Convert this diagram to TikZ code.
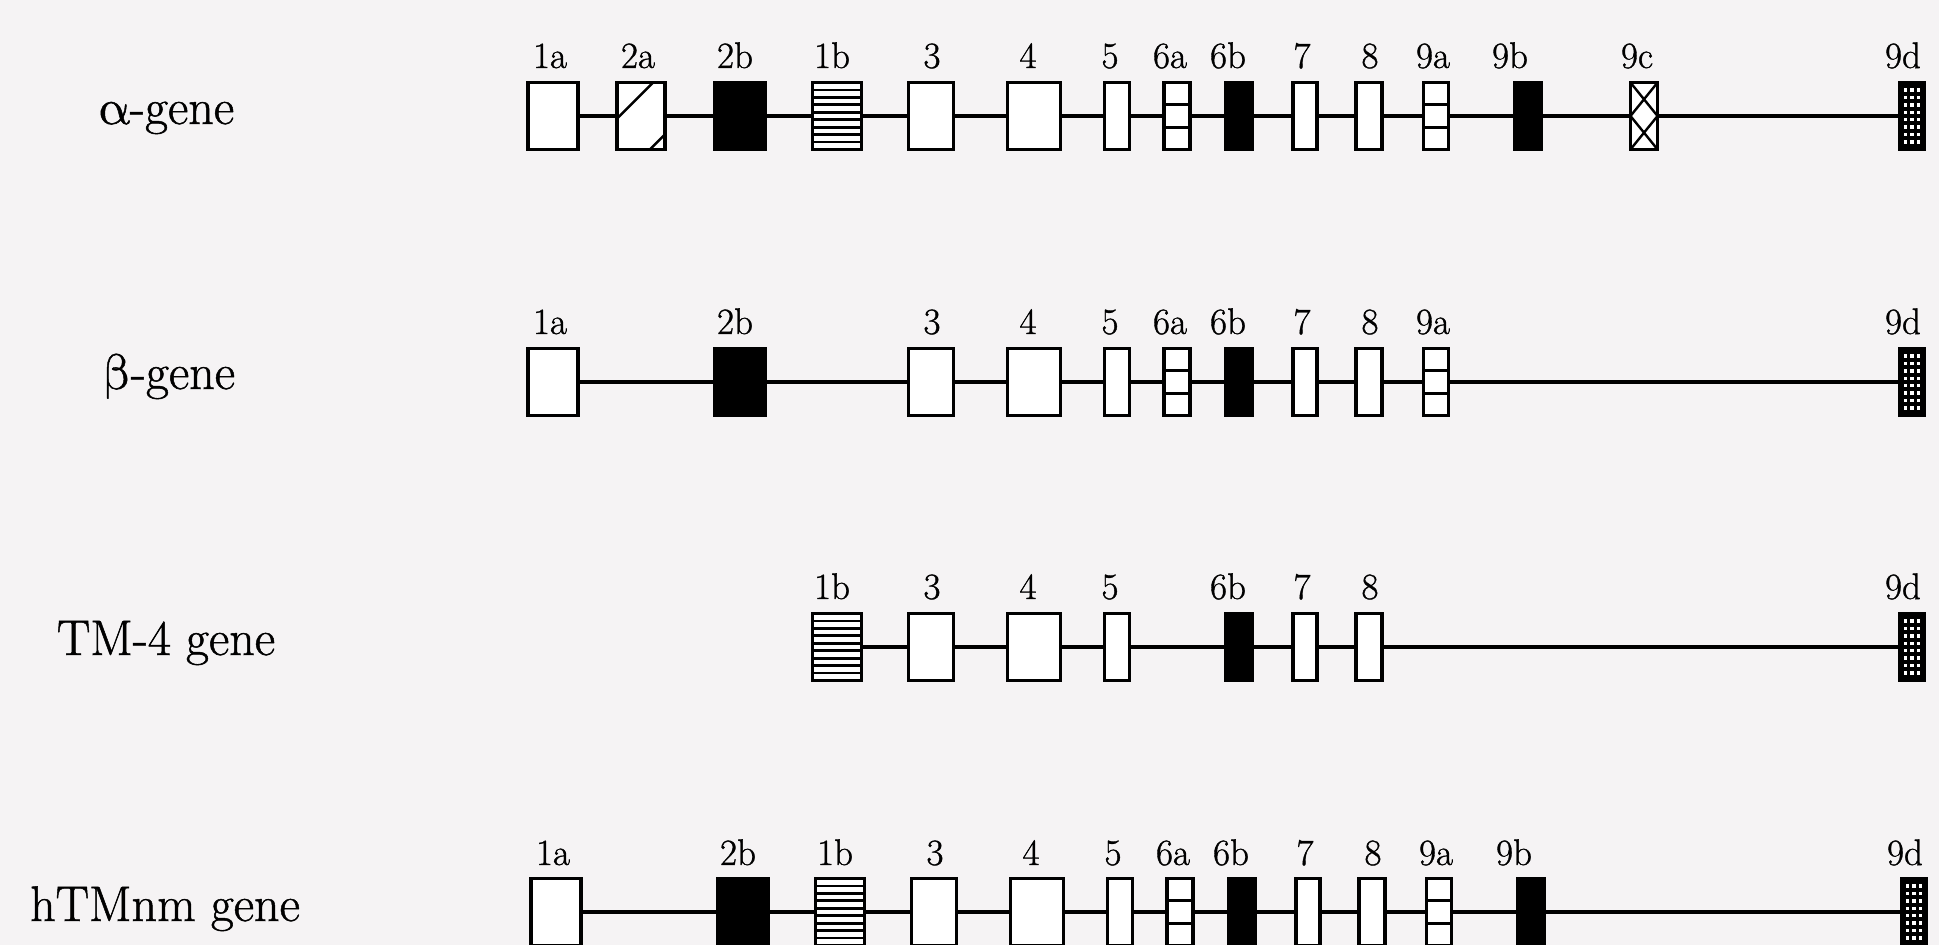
\documentclass[tikz,border=0pt]{standalone}
\usepackage{fontspec}
\newfontfamily\labfont{Latin Modern Roman}[FakeBold=1]
\newfontfamily\greekfont{Latin Modern Math}[FakeBold=1]
\usetikzlibrary{calc}
\definecolor{paper}{RGB}{245,243,244}
\tikzset{
  exon/.style={rectangle, draw=black, line width=1.6pt, fill=white, inner sep=0pt, outer sep=0pt, minimum height=33.4pt},
  blackexon/.style={exon, fill=black},
  stripeexon/.style={exon, path picture={
    \foreach \k in {1,...,8}
      \draw[line width=1.4pt] ($(path picture bounding box.north west)!\k/9!(path picture bounding box.south west)$) -- ($(path picture bounding box.north east)!\k/9!(path picture bounding box.south east)$);}},
  thirdexon/.style={exon, path picture={
    \foreach \k in {1,2}
      \draw[line width=1.4pt] ($(path picture bounding box.north west)!\k/3!(path picture bounding box.south west)$) -- ($(path picture bounding box.north east)!\k/3!(path picture bounding box.south east)$);}},
  thickthirdexon/.style={exon, path picture={
    \fill (path picture bounding box.north west) rectangle ([xshift=3pt]path picture bounding box.south west);
    \foreach \k in {1,2}
      \draw[line width=1.4pt] ($(path picture bounding box.north west)!\k/3!(path picture bounding box.south west)$) -- ($(path picture bounding box.north east)!\k/3!(path picture bounding box.south east)$);}},
  diagexon/.style={exon, path picture={
    \draw[line width=1.3pt] ([yshift=-18pt]path picture bounding box.north west) -- ([xshift=18pt]path picture bounding box.north west);
    \draw[line width=1.3pt] ([xshift=-7.5pt]path picture bounding box.south east) -- ([yshift=7.5pt]path picture bounding box.south east);}},
  zigexon/.style={exon, path picture={
    \draw[line width=1.2pt] (path picture bounding box.north west) -- (path picture bounding box.east) -- (path picture bounding box.south west);
    \draw[line width=1.2pt] (path picture bounding box.north east) -- (path picture bounding box.west) -- (path picture bounding box.south east);}},
  dotexon/.style={exon, fill=black, path picture={
    \foreach \i in {1,2,3}
      \foreach \j in {1,...,8}
        \fill[white] ([xshift=\i*3.125pt-0.85pt, yshift=-\j*3.71pt+0.85pt]path picture bounding box.north west) rectangle ++(1.7pt,-1.7pt);}},
  e1a/.style={exon, minimum width=25pt},
  e2a/.style={diagexon, minimum width=24pt},
  e2b/.style={blackexon, minimum width=25pt},
  e1b/.style={stripeexon, minimum width=24.5pt},
  e3/.style={exon, minimum width=22.5pt},
  e4/.style={exon, minimum width=26.5pt},
  e5/.style={exon, minimum width=12.5pt},
  e6a/.style={thickthirdexon, minimum width=13pt},
  e6b/.style={blackexon, minimum width=13.5pt},
  e7/.style={exon, minimum width=12pt},
  e8/.style={exon, minimum width=13pt},
  e9a/.style={thirdexon, minimum width=12.5pt},
  e9b/.style={blackexon, minimum width=13pt},
  e9c/.style={zigexon, minimum width=13.5pt},
  e9d/.style={dotexon, minimum width=12.5pt},
  conn/.style={line width=1.6pt, draw=black},
  exlabel/.style={anchor=base, inner sep=0pt, font=\labfont\fontsize{18.5}{21}\selectfont},
  genelabel/.style={anchor=base, inner sep=0pt, font=\labfont\fontsize{25}{28}\selectfont}
}
\begin{document}
\begin{tikzpicture}[x=0.5pt, y=-0.5pt]
\useasboundingbox (0,0) rectangle (1939,945);
\clip (0,0) rectangle (1939,945);
\fill[paper] (0,0) rectangle (1939,945);

% gene labels
\node[genelabel] (ga) at (166,124) {{\greekfont α}-gene};
\node[genelabel] (gb) at (169,389) {{\greekfont β}-gene};
\node[genelabel] (gt) at (166,655) {TM-4 gene};
\node[genelabel] (gh) at (165,921) {hTMnm gene};

% ---------- alpha gene ----------
\node[e1a] (a1a) at (553,116) {};
\node[e2a] (a2a) at (641,116) {};
\node[e2b] (a2b) at (740,116) {};
\node[e1b] (a1b) at (837,116) {};
\node[e3] (a3) at (931,116) {};
\node[e4] (a4) at (1034,116) {};
\node[e5] (a5) at (1117,116) {};
\node[e6a] (a6a) at (1177,116) {};
\node[e6b] (a6b) at (1239,116) {};
\node[e7] (a7) at (1305,116) {};
\node[e8] (a8) at (1369,116) {};
\node[e9a] (a9a) at (1436,116) {};
\node[e9b] (a9b) at (1528,116) {};
\node[e9c] (a9c) at (1644,116) {};
\node[e9d] (a9d) at (1912,116) {};
\draw[conn] (a1a) -- (a2a) -- (a2b) -- (a1b) -- (a3) -- (a4) -- (a5) -- (a6a) -- (a6b) -- (a7) -- (a8) -- (a9a) -- (a9b) -- (a9c) -- (a9d);
\node[exlabel] (la1a) at (550,68) {1a};
\node[exlabel] (la2a) at (638,68) {2a};
\node[exlabel] (la2b) at (735,68) {2b};
\node[exlabel] (la1b) at (832,68) {1b};
\node[exlabel] (la3) at (932,68) {3};
\node[exlabel] (la4) at (1028,68) {4};
\node[exlabel] (la5) at (1110,68) {5};
\node[exlabel] (la6a) at (1170,68) {6a};
\node[exlabel] (la6b) at (1228,68) {6b};
\node[exlabel] (la7) at (1302,68) {7};
\node[exlabel] (la8) at (1370,68) {8};
\node[exlabel] (la9a) at (1433,68) {9a};
\node[exlabel] (la9b) at (1510,68) {9b};
\node[exlabel] (la9c) at (1637,68) {9c};
\node[exlabel] (la9d) at (1903,68) {9d};

% ---------- beta gene ----------
\node[e1a] (b1a) at (553,382) {};
\node[e2b] (b2b) at (740,382) {};
\node[e3] (b3) at (931,382) {};
\node[e4] (b4) at (1034,382) {};
\node[e5] (b5) at (1117,382) {};
\node[e6a] (b6a) at (1177,382) {};
\node[e6b] (b6b) at (1239,382) {};
\node[e7] (b7) at (1305,382) {};
\node[e8] (b8) at (1369,382) {};
\node[e9a] (b9a) at (1436,382) {};
\node[e9d] (b9d) at (1912,382) {};
\draw[conn] (b1a) -- (b2b) -- (b3) -- (b4) -- (b5) -- (b6a) -- (b6b) -- (b7) -- (b8) -- (b9a) -- (b9d);
\node[exlabel] (lb1a) at (550,334) {1a};
\node[exlabel] (lb2b) at (735,334) {2b};
\node[exlabel] (lb3) at (932,334) {3};
\node[exlabel] (lb4) at (1028,334) {4};
\node[exlabel] (lb5) at (1110,334) {5};
\node[exlabel] (lb6a) at (1170,334) {6a};
\node[exlabel] (lb6b) at (1228,334) {6b};
\node[exlabel] (lb7) at (1302,334) {7};
\node[exlabel] (lb8) at (1370,334) {8};
\node[exlabel] (lb9a) at (1433,334) {9a};
\node[exlabel] (lb9d) at (1903,334) {9d};

% ---------- TM-4 gene ----------
\node[e1b] (t1b) at (837,647) {};
\node[e3] (t3) at (931,647) {};
\node[e4] (t4) at (1034,647) {};
\node[e5] (t5) at (1117,647) {};
\node[e6b] (t6b) at (1239,647) {};
\node[e7] (t7) at (1305,647) {};
\node[e8] (t8) at (1369,647) {};
\node[e9d] (t9d) at (1912,647) {};
\draw[conn] (t1b) -- (t3) -- (t4) -- (t5) -- (t6b) -- (t7) -- (t8) -- (t9d);
\node[exlabel] (lt1b) at (832,599) {1b};
\node[exlabel] (lt3) at (932,599) {3};
\node[exlabel] (lt4) at (1028,599) {4};
\node[exlabel] (lt5) at (1110,599) {5};
\node[exlabel] (lt6b) at (1228,599) {6b};
\node[exlabel] (lt7) at (1302,599) {7};
\node[exlabel] (lt8) at (1370,599) {8};
\node[exlabel] (lt9d) at (1903,599) {9d};

% ---------- hTMnm gene ----------
\node[e1a] (h1a) at (556,912) {};
\node[e2b] (h2b) at (743,912) {};
\node[e1b] (h1b) at (840,912) {};
\node[e3] (h3) at (934,912) {};
\node[e4] (h4) at (1037,912) {};
\node[e5] (h5) at (1120,912) {};
\node[e6a] (h6a) at (1180,912) {};
\node[e6b] (h6b) at (1242,912) {};
\node[e7] (h7) at (1308,912) {};
\node[e8] (h8) at (1372,912) {};
\node[e9a] (h9a) at (1439,912) {};
\node[e9b] (h9b) at (1531,912) {};
\node[e9d] (h9d) at (1914,912) {};
\draw[conn] (h1a) -- (h2b) -- (h1b) -- (h3) -- (h4) -- (h5) -- (h6a) -- (h6b) -- (h7) -- (h8) -- (h9a) -- (h9b) -- (h9d);
\node[exlabel] (lh1a) at (553,865) {1a};
\node[exlabel] (lh2b) at (738,865) {2b};
\node[exlabel] (lh1b) at (835,865) {1b};
\node[exlabel] (lh3) at (935,865) {3};
\node[exlabel] (lh4) at (1031,865) {4};
\node[exlabel] (lh5) at (1113,865) {5};
\node[exlabel] (lh6a) at (1173,865) {6a};
\node[exlabel] (lh6b) at (1231,865) {6b};
\node[exlabel] (lh7) at (1305,865) {7};
\node[exlabel] (lh8) at (1373,865) {8};
\node[exlabel] (lh9a) at (1436,865) {9a};
\node[exlabel] (lh9b) at (1514,865) {9b};
\node[exlabel] (lh9d) at (1905,865) {9d};
\end{tikzpicture}
\end{document}
